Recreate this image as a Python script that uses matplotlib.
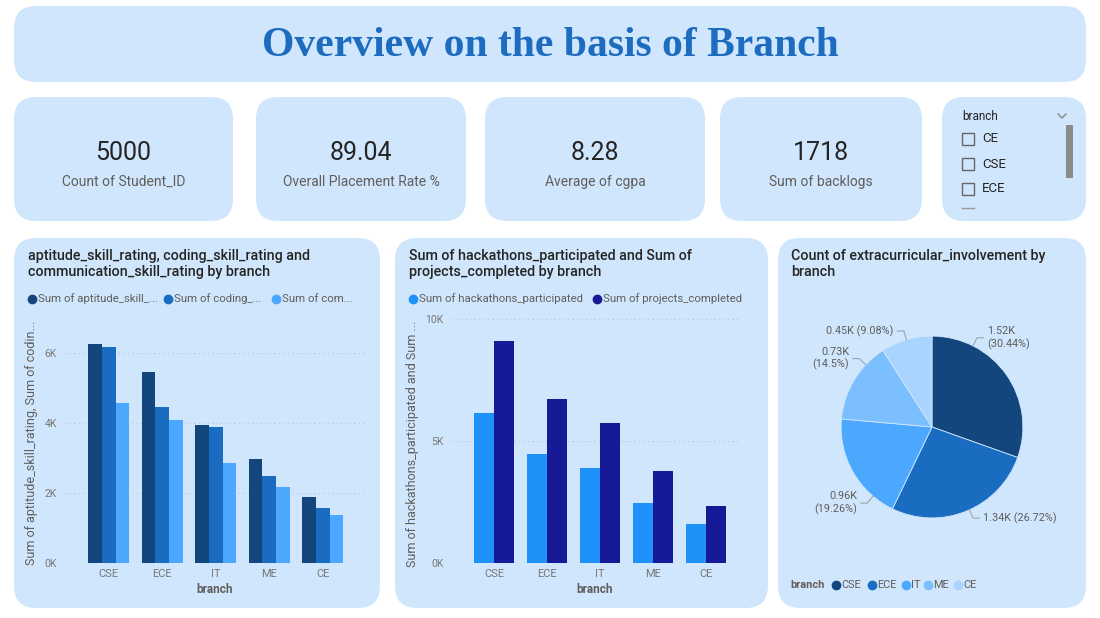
import matplotlib
matplotlib.use("Agg")
import matplotlib.pyplot as plt
import numpy as np
from matplotlib.patches import FancyBboxPatch, Rectangle

plt.rcParams['font.family'] = ['Roboto', 'DejaVu Sans']

# ---- data ----
branches = ["CSE", "ECE", "IT", "ME", "CE"]
aptitude = [6270, 5470, 3950, 2960, 1890]
coding = [6170, 4470, 3900, 2480, 1560]
communication = [4580, 4090, 2870, 2180, 1370]
skill_labels = ["Sum of aptitude_skill_...", "Sum of coding_...", "Sum of com..."]

hackathons = [6150, 4450, 3900, 2440, 1580]
projects = [9100, 6720, 5750, 3750, 2330]
proj_labels = ["Sum of hackathons_participated", "Sum of projects_completed"]

extra_counts = [1522, 1336, 963, 725, 454]
extra_pct = [30.44, 26.72, 19.26, 14.5, 9.08]

kpi_values = ["5000", "89.04", "8.28", "1718"]
kpi_names = ["Count of Student_ID", "Overall Placement Rate %", "Average of cgpa", "Sum of backlogs"]
slicer_items = ["CE", "CSE", "ECE"]

# ---- colours ----
panel = "#d0e6fc"
title_col = "#1d6cbf"
txt = "#252423"
grey = "#605e5c"
skill_cols = ["#12467d", "#1a6cc0", "#4ca8ff"]
proj_cols = ["#1f92fa", "#161a96"]
pie_cols = ["#12467d", "#1a6cc0", "#4ca8ff", "#7bbfff", "#a9d4ff"]

W, H = 1100, 618
fig = plt.figure(figsize=(W / 100, H / 100), dpi=100, facecolor="white")
bg = fig.add_axes([0, 0, 1, 1])
bg.set_xlim(0, W)
bg.set_ylim(H, 0)
bg.axis("off")


def box(x0, y0, x1, y1, r=22):
    bg.add_patch(FancyBboxPatch((x0, y0), x1 - x0, y1 - y0,
                                boxstyle=f"round,pad=0,rounding_size={r}",
                                fc=panel, ec="none"))


def px_axes(x0, y0, x1, y1):
    return fig.add_axes([x0 / W, 1 - y1 / H, (x1 - x0) / W, (y1 - y0) / H])


# panels
box(14, 6, 1086, 82)
cards = [(14, 233), (256, 466), (485, 705), (720, 922)]
for (a, b) in cards:
    box(a, 97, b, 221)
box(942, 97, 1086, 221)
box(14, 238, 380, 608)
box(395, 238, 768, 608)
box(778, 238, 1086, 608)

bg.text(550, 46, "Overview on the basis of Branch", ha="center", va="center",
        fontsize=30, fontweight="bold", color=title_col,
        family="Liberation Serif")

# KPI cards
for (a, b), v, n in zip(cards, kpi_values, kpi_names):
    cx = (a + b) / 2
    bg.text(cx, 153, v, ha="center", va="center", fontsize=18, color="#252423")
    bg.text(cx, 182, n, ha="center", va="center", fontsize=10, color=grey)

# slicer
bg.text(962, 116, "branch", ha="left", va="center", fontsize=8.5, color=txt)
bg.plot([1058, 1062, 1066], [114, 118, 114], color="#888888", lw=1)
for i, s in enumerate(slicer_items):
    yy = 139 + 25 * i
    bg.add_patch(Rectangle((962, yy - 6), 12, 12, fc="none", ec="#666666", lw=1))
    bg.text(982, yy, s, ha="left", va="center", fontsize=9.5, color=txt)
bg.add_patch(Rectangle((1066, 125), 7, 53, fc="#8a8a8a", ec="none"))
bg.plot([962, 974], [208, 208], color="#999999", lw=1)


def style_bar_axes(ax, ticks, ylab):
    ax.set_facecolor("none")
    for sp in ax.spines.values():
        sp.set_visible(False)
    ax.set_yticks(ticks)
    ax.set_yticklabels([f"{t // 1000}K" for t in ticks])
    ax.yaxis.grid(True, linestyle=(0, (1, 3)), color="#b8c4d0", lw=0.8)
    ax.set_axisbelow(True)
    ax.tick_params(length=0, labelsize=7.5, labelcolor="#777777", pad=6)
    ax.tick_params(axis="x", labelsize=8, pad=4)
    ax.set_xlabel("branch", fontsize=8.5, color=grey, fontweight="bold", labelpad=3)
    ax.set_ylabel(ylab, fontsize=9, color=grey, labelpad=6)


x = np.arange(len(branches))

# chart 1
ax1 = px_axes(65, 318, 365, 563)
w = 0.77 / 3
for k, (vals, c) in enumerate(zip([aptitude, coding, communication], skill_cols)):
    ax1.bar(x + (k - 1) * w, vals, width=w, color=c)
ax1.set_xlim(-0.82, 4.79)
ax1.set_ylim(0, 7000)
ax1.set_xticks(x)
ax1.set_xticklabels(branches)
style_bar_axes(ax1, [0, 2000, 4000, 6000], "Sum of aptitude_skill_rating, Sum of codin...")
ax1.yaxis.set_label_coords(-0.09, 0.49)
bg.text(28, 264, "aptitude_skill_rating, coding_skill_rating and\ncommunication_skill_rating by branch",
        ha="left", va="center", fontsize=10.3, color=txt, linespacing=1.25, fontweight="medium")
hx = 28
for k, (lab, c) in enumerate(zip(skill_labels, skill_cols)):
    bg.plot(hx + 4, 299, "o", ms=6, color=c)
    bg.text(hx + 10, 299, lab, ha="left", va="center", fontsize=8.2, color=grey)
    hx += [136, 108, 0][k]

# chart 2
ax2 = px_axes(452, 314, 738, 563)
w2 = 0.76 / 2
ax2.bar(x - w2 / 2, hackathons, width=w2, color=proj_cols[0])
ax2.bar(x + w2 / 2, projects, width=w2, color=proj_cols[1])
ax2.set_xlim(-0.8, 4.61)
ax2.set_ylim(0, 10200)
ax2.set_xticks(x)
ax2.set_xticklabels(branches)
style_bar_axes(ax2, [0, 5000, 10000], "Sum of hackathons_participated and Sum ...")
ax2.yaxis.set_label_coords(-0.115, 0.48)
bg.text(409, 264, "Sum of hackathons_participated and Sum of\nprojects_completed by branch",
        ha="left", va="center", fontsize=10.3, color=txt, linespacing=1.25, fontweight="medium")
hx = 409
for k, (lab, c) in enumerate(zip(proj_labels, proj_cols)):
    bg.plot(hx + 4, 299, "o", ms=6, color=c)
    bg.text(hx + 10, 299, lab, ha="left", va="center", fontsize=8.2, color=grey)
    hx += 184

# chart 3 - pie
ax3 = px_axes(782, 277, 1082, 577)
ax3.set_facecolor("none")
wedges, _ = ax3.pie(extra_counts, colors=pie_cols, startangle=90, counterclock=False,
                    radius=1, wedgeprops=dict(linewidth=0.6, edgecolor=panel))
ax3.set_xlim(-1.65, 1.65)
ax3.set_ylim(-1.65, 1.65)
ax3.set_aspect("equal")
two_line = [True, False, True, True, False]
shift = [28, 2, 20, -12, 0]  # nudge leader anchor (deg) like Power BI does
for wd, cnt, pct, tl, sh in zip(wedges, extra_counts, extra_pct, two_line, shift):
    ang = np.deg2rad((wd.theta1 + wd.theta2) / 2 + sh)
    cx, cy = np.cos(ang), np.sin(ang)
    sgn = 1 if cx > 0 else -1
    p0 = (1.0 * cx, 1.0 * cy)
    p1 = (1.1 * cx, 1.1 * cy)
    p2 = (p1[0] + 0.07 * sgn, p1[1])
    ax3.plot([p0[0], p1[0], p2[0]], [p0[1], p1[1], p2[1]], color="#9aa5b1", lw=0.8)
    sep = "\n" if tl else " "
    kval = np.floor(cnt / 10 + 0.5) / 100
    lab = f"{kval:.2f}K{sep}({pct:g}%)"
    ax3.text(p2[0] + 0.04 * sgn, p2[1], lab, ha="left" if sgn > 0 else "right",
             va="center", fontsize=7.8, color=grey, linespacing=1.25)
bg.text(791, 264, "Count of extracurricular_involvement by\nbranch",
        ha="left", va="center", fontsize=10.3, color=txt, linespacing=1.25, fontweight="medium")
bg.text(790, 585, "branch", ha="left", va="center", fontsize=7.9, color=grey, fontweight="bold")
hx = 836
for k, (b, c) in enumerate(zip(branches, pie_cols)):
    bg.plot(hx, 585, "o", ms=6, color=c)
    bg.text(hx + 5, 585, b, ha="left", va="center", fontsize=7.9, color=grey)
    hx += [36, 34, 22, 30, 0][k]

fig.savefig("out.png", dpi=100, facecolor="white")
